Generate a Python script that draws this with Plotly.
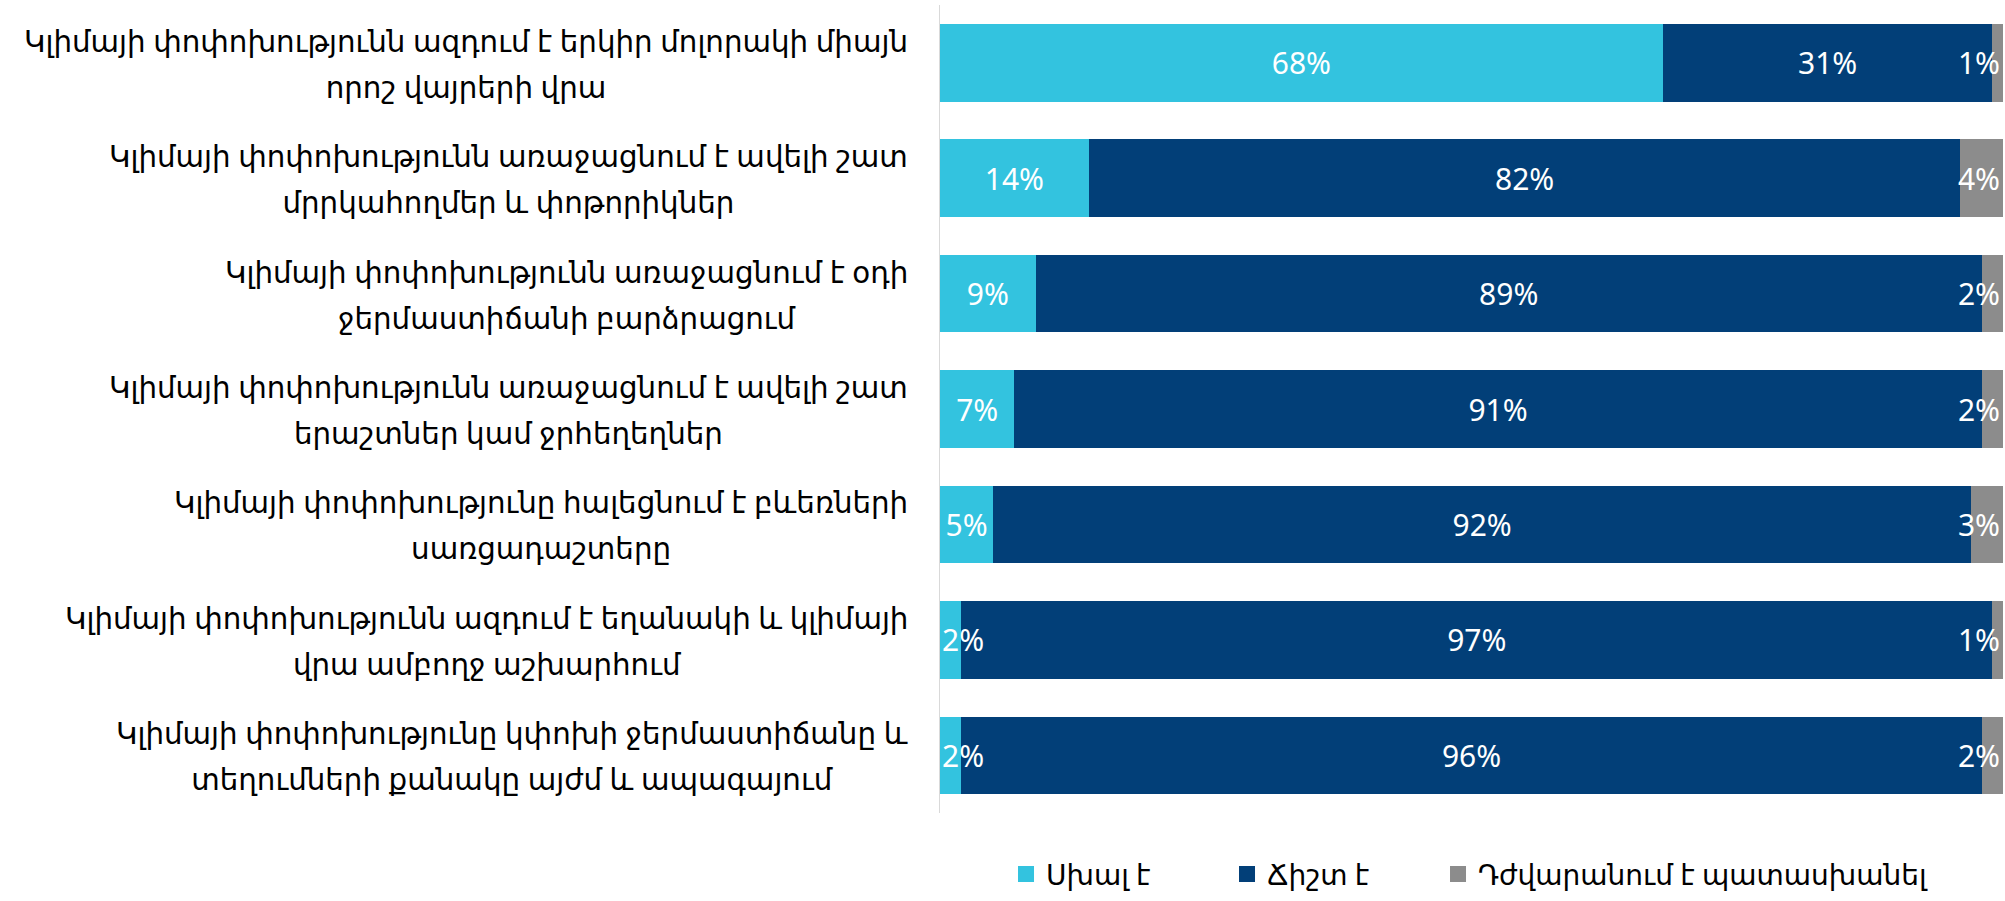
import plotly.graph_objects as go

categories = [
    "Կլիմայի փոփոխությունն ազդում է երկիր մոլորակի միայն<br>որոշ վայրերի վրա",
    "Կլիմայի փոփոխությունն առաջացնում է ավելի շատ<br>մրրկահողմեր և փոթորիկներ",
    "Կլիմայի փոփոխությունն առաջացնում է օդի<br>ջերմաստիճանի բարձրացում",
    "Կլիմայի փոփոխությունն առաջացնում է ավելի շատ<br>երաշտներ կամ ջրհեղեղներ",
    "Կլիմայի փոփոխությունը հալեցնում է բևեռների<br>սառցադաշտերը",
    "Կլիմայի փոփոխությունն ազդում է եղանակի և կլիմայի<br>վրա ամբողջ աշխարհում",
    "Կլիմայի փոփոխությունը կփոխի ջերմաստիճանը և<br>տեղումների քանակը այժմ և ապագայում",
]

wrong = [68, 14, 9, 7, 5, 2, 2]
right = [31, 82, 89, 91, 92, 97, 96]
hard = [1, 4, 2, 2, 3, 1, 2]

series_names = ["Սխալ է", "Ճիշտ է", "Դժվարանում է պատասխանել"]
colors = ["#33C3DF", "#023F78", "#8C8C8C"]

FONT = "Noto Sans, DejaVu Sans, sans-serif"
LABEL_SIZE = 29.3
VALUE_SIZE = 30

fig = go.Figure()

# labels of very thin first segments are drawn separately (kept inside the plot)
wrong_pos = ["inside" if v >= 4 else "none" for v in wrong]

for name, values, color, anchor, pos in zip(
        series_names,
        [wrong, right, hard],
        colors,
        ["middle", "middle", "end"],
        [wrong_pos, "inside", "inside"]):
    fig.add_trace(
        go.Bar(
            x=values,
            y=categories,
            orientation="h",
            name=name,
            marker=dict(color=color, line=dict(width=0)),
            text=[f"{v}%" for v in values],
            textposition=pos,
            insidetextanchor=anchor,
            textangle=0,
            constraintext="none",
            textfont=dict(color="white", size=VALUE_SIZE, family=FONT),
            cliponaxis=False,
            showlegend=False,
        )
    )

for cat, v in zip(categories, wrong):
    if v < 4:
        fig.add_annotation(
            x=0,
            y=cat,
            text=f"{v}%",
            xanchor="left",
            showarrow=False,
            font=dict(color="white", size=VALUE_SIZE, family=FONT),
        )

# legend entries (one legend each, so the gaps can follow the reference)
legend_x = [0.0621, 0.270, 0.4685]
for i, (name, color) in enumerate(zip(series_names, colors)):
    fig.add_trace(
        go.Scatter(
            x=[None],
            y=[None],
            mode="markers",
            name=name,
            marker=dict(symbol="square", size=20, color=color),
            legend="legend" if i == 0 else f"legend{i + 1}",
        )
    )

# category labels: lines centred on each other, a bit more line spacing
for cat in categories:
    lines = cat.split("<br>")
    text = "<br>".join(
        f"<span style='font-size:{LABEL_SIZE}px'>{line}</span>" for line in lines
    )
    fig.add_annotation(
        x=0,
        xref="paper",
        y=cat,
        yref="y",
        text=text,
        xanchor="right",
        xshift=-30,
        yshift=-1,
        align="center",
        showarrow=False,
        font=dict(size=35, color="#000000", family=FONT),
    )

legend_style = dict(
    orientation="h",
    xanchor="left",
    y=-0.076,
    yanchor="middle",
    font=dict(size=28, color="#000000", family=FONT),
    itemsizing="trace",
    bgcolor="rgba(0,0,0,0)",
)

fig.update_layout(
    barmode="stack",
    bargap=0.328,
    width=2005,
    height=901,
    margin=dict(l=940, r=2, t=5, b=84),
    plot_bgcolor="white",
    paper_bgcolor="white",
    font=dict(family=FONT, size=28, color="#000000"),
    legend=dict(x=legend_x[0], **legend_style),
    legend2=dict(x=legend_x[1], **legend_style),
    legend3=dict(x=legend_x[2], **legend_style),
)

fig.update_xaxes(range=[0, 100], visible=False)
fig.update_yaxes(
    autorange="reversed",
    showticklabels=False,
    showgrid=False,
    zeroline=False,
    showline=True,
    linecolor="#D9D9D9",
    linewidth=1,
    ticks="",
)

fig.write_html(
    "out.html",
    config={"displayModeBar": False},
    post_script="document.body.style.margin='0';",
)
